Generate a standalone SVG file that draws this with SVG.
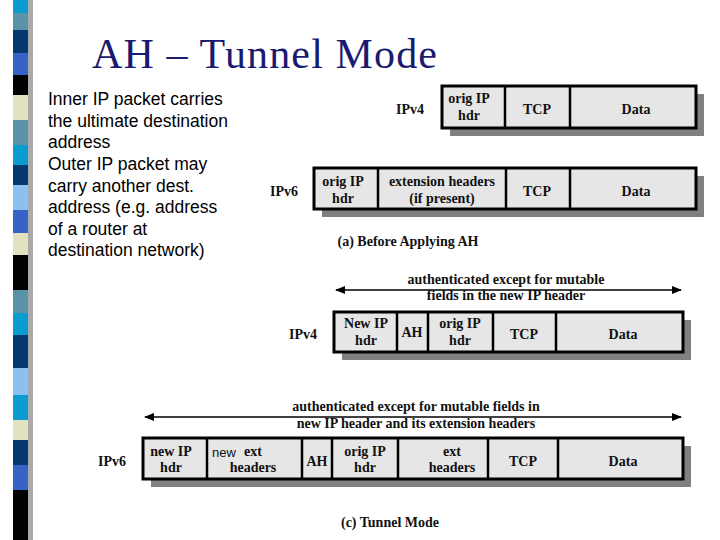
<svg xmlns="http://www.w3.org/2000/svg" width="720" height="540" viewBox="0 0 720 540">
<style>
.b{fill:#e6e6e6;stroke:#000;stroke-width:3}
.s{fill:#808080}
.d{stroke:#000;stroke-width:2.5}
.t{font-family:"Liberation Serif",serif;font-weight:bold;font-size:14px;text-anchor:middle;fill:#111}
.l{font-family:"Liberation Sans",sans-serif;font-size:17.5px;fill:#000}
</style>
<defs><marker id="a" viewBox="0 0 10 10" refX="9" refY="5" markerWidth="10" markerHeight="10" markerUnits="userSpaceOnUse" orient="auto-start-reverse"><path d="M0,1L10,5L0,9z"/></marker></defs>
<rect width="720" height="540" fill="#fff"/>
<g id="strip">
<rect x="28" y="0" width="5" height="540" fill="#aaa"/>
<rect x="13" y="0" width="15" height="13" fill="#0a9bd0"/>
<rect x="13" y="13" width="15" height="17" fill="#5a93a8"/>
<rect x="13" y="30" width="15" height="23" fill="#053a70"/>
<rect x="13" y="53" width="15" height="22" fill="#3563c8"/>
<rect x="13" y="75" width="15" height="20" fill="#000"/>
<rect x="13" y="95" width="15" height="25" fill="#e2e2c0"/>
<rect x="13" y="120" width="15" height="25" fill="#5a93a8"/>
<rect x="13" y="145" width="15" height="20" fill="#0a9bd0"/>
<rect x="13" y="165" width="15" height="20" fill="#053a70"/>
<rect x="13" y="185" width="15" height="25" fill="#8cc0f0"/>
<rect x="13" y="210" width="15" height="23" fill="#3563c8"/>
<rect x="13" y="233" width="15" height="22" fill="#e2e2c0"/>
<rect x="13" y="255" width="15" height="35" fill="#000"/>
<rect x="13" y="290" width="15" height="23" fill="#5a93a8"/>
<rect x="13" y="313" width="15" height="22" fill="#0a9bd0"/>
<rect x="13" y="335" width="15" height="33" fill="#053a70"/>
<rect x="13" y="368" width="15" height="27" fill="#8cc0f0"/>
<rect x="13" y="395" width="15" height="25" fill="#0a9bd0"/>
<rect x="13" y="420" width="15" height="20" fill="#e2e2c0"/>
<rect x="13" y="440" width="15" height="25" fill="#053a70"/>
<rect x="13" y="465" width="15" height="25" fill="#3563c8"/>
<rect x="13" y="490" width="15" height="50" fill="#000"/>
</g>
<text x="92" y="68" font-family="Liberation Serif,serif" font-size="42" fill="#1a1a70" textLength="345">AH – Tunnel Mode</text>
<g id="bullets" class="l">
<text x="48" y="105">Inner IP packet carries</text>
<text x="48" y="127">the ultimate destination</text>
<text x="48" y="148">address</text>
<text x="48" y="170">Outer IP packet may</text>
<text x="48" y="192">carry another dest.</text>
<text x="48" y="213">address (e.g. address</text>
<text x="48" y="235">of a router at</text>
<text x="48" y="256">destination network)</text>
</g>
<g id="before-ipv4">
<rect class="s" x="450" y="94" width="254" height="42"/>
<rect class="b" x="442" y="86" width="254" height="42"/>
<line class="d" x1="505" y1="86" x2="505" y2="128"/><line class="d" x1="570" y1="86" x2="570" y2="128"/>
<text class="t" x="410" y="114">IPv4</text>
<text class="t" x="469" y="103">orig IP</text><text class="t" x="469" y="120">hdr</text>
<text class="t" x="537" y="114">TCP</text><text class="t" x="636" y="114">Data</text>
</g>
<g id="before-ipv6">
<rect class="s" x="322" y="176" width="382" height="41"/>
<rect class="b" x="314" y="168" width="382" height="41"/>
<line class="d" x1="378" y1="168" x2="378" y2="209"/><line class="d" x1="506" y1="168" x2="506" y2="209"/><line class="d" x1="570" y1="168" x2="570" y2="209"/>
<text class="t" x="284" y="196">IPv6</text>
<text class="t" x="343" y="186">orig IP</text><text class="t" x="343" y="203">hdr</text>
<text class="t" x="442" y="186">extension headers</text><text class="t" x="442" y="203">(if present)</text>
<text class="t" x="537" y="196">TCP</text><text class="t" x="636" y="196">Data</text>
<text class="t" x="408" y="246">(a) Before Applying AH</text>
</g>
<g id="connectors">
<line x1="336" y1="290" x2="681" y2="290" stroke="#000" stroke-width="1.5" marker-start="url(#a)" marker-end="url(#a)"/>
<line x1="145" y1="417" x2="681" y2="417" stroke="#000" stroke-width="1.5" marker-start="url(#a)" marker-end="url(#a)"/>
</g>
<g id="tunnel-ipv4">
<text class="t" x="506" y="284">authenticated except for mutable</text>
<text class="t" x="506" y="300">fields in the new IP header</text>
<rect class="s" x="342" y="320" width="349" height="40"/>
<rect class="b" x="334" y="312" width="349" height="40"/>
<line class="d" x1="397" y1="312" x2="397" y2="352"/><line class="d" x1="428" y1="312" x2="428" y2="352"/><line class="d" x1="493" y1="312" x2="493" y2="352"/><line class="d" x1="556" y1="312" x2="556" y2="352"/>
<text class="t" x="303" y="339">IPv4</text>
<text class="t" x="366" y="328">New IP</text><text class="t" x="366" y="345">hdr</text>
<text class="t" x="412" y="337">AH</text>
<text class="t" x="460" y="328">orig IP</text><text class="t" x="460" y="345">hdr</text>
<text class="t" x="524" y="339">TCP</text><text class="t" x="623" y="339">Data</text>
</g>
<g id="tunnel-ipv6">
<text class="t" x="416" y="411">authenticated except for mutable fields in</text>
<text class="t" x="416" y="428">new IP header and its extension headers</text>
<rect class="s" x="151" y="446" width="540" height="41"/>
<rect class="b" x="143" y="438" width="540" height="41"/>
<line class="d" x1="207" y1="438" x2="207" y2="479"/><line class="d" x1="302" y1="438" x2="302" y2="479"/><line class="d" x1="332" y1="438" x2="332" y2="479"/><line class="d" x1="398" y1="438" x2="398" y2="479"/><line class="d" x1="488" y1="438" x2="488" y2="479"/><line class="d" x1="558" y1="438" x2="558" y2="479"/>
<text class="t" x="112" y="466">IPv6</text>
<text class="t" x="171" y="456">new IP</text><text class="t" x="171" y="472">hdr</text>
<text x="212" y="457" font-family="Liberation Sans,sans-serif" font-size="13" fill="#111">new</text>
<text class="t" x="253" y="456">ext</text><text class="t" x="253" y="472">headers</text>
<text class="t" x="317" y="466">AH</text>
<text class="t" x="365" y="456">orig IP</text><text class="t" x="365" y="472">hdr</text>
<text class="t" x="452" y="456">ext</text><text class="t" x="452" y="472">headers</text>
<text class="t" x="523" y="466">TCP</text><text class="t" x="623" y="466">Data</text>
<text class="t" x="390" y="527">(c) Tunnel Mode</text>
</g>
</svg>
